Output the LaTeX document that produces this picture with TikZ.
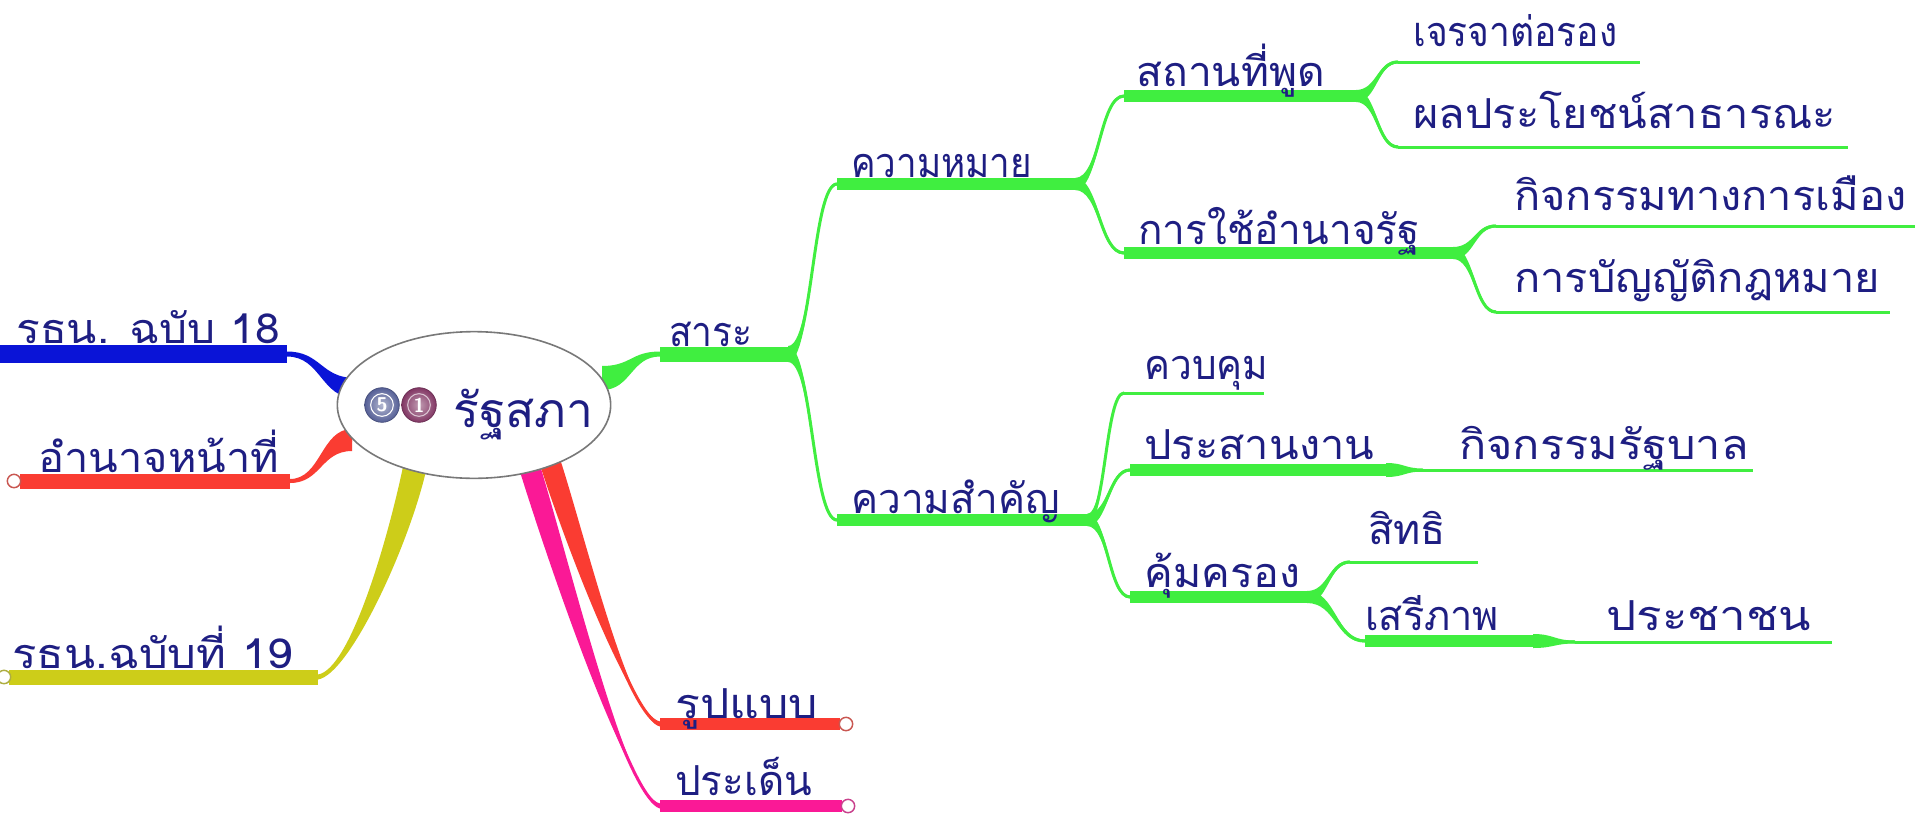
\documentclass[tikz,border=0pt]{standalone}
\usepackage{fontspec}
\newfontfamily\thai[Script=Thai]{Loma}
\usetikzlibrary{calc,shapes.geometric}
\definecolor{cgreen}{RGB}{64,238,64}
\definecolor{cblue}{RGB}{10,20,215}
\definecolor{cred}{RGB}{250,60,50}
\definecolor{cyel}{RGB}{205,205,25}
\definecolor{cpink}{RGB}{250,25,150}
\definecolor{cnavy}{RGB}{30,30,130}
\definecolor{cgray}{RGB}{120,120,120}
\definecolor{cfive}{RGB}{85,95,150}
\definecolor{cone}{RGB}{130,55,100}
\newcommand\sx[2]{\scalebox{#1}[1]{#2}}
% horizontal tapered ribbon: colour, from, half width (px), to, half width (px)
\newcommand\myribbon[5]{%
  \fill[#1] let \p1=(#2), \p2=(#4), \p3=($(#2)!0.5!(#4)$) in
    (\x1,{\y1+#3*0.75pt}) .. controls (\x3,{\y1+#3*0.75pt}) and (\x3,{\y2+#5*0.75pt}) .. (\x2,{\y2+#5*0.75pt})
    -- (\x2,{\y2-#5*0.75pt}) .. controls (\x3,{\y2-#5*0.75pt}) and (\x3,{\y1-#3*0.75pt}) .. (\x1,{\y1-#3*0.75pt}) -- cycle;
  \draw[#1, line width=2.25pt] let \p1=(#2), \p2=(#4), \p3=($(#2)!0.5!(#4)$) in
    (\p1) .. controls (\x3,\y1) and (\x3,\y2) .. (\p2);}
% vertical tapered ribbon: colour, from, half width, control1, control2, to, half width
\newcommand\myvribbon[7]{%
  \fill[#1] ($(#2)+(-#3,0)$) .. controls ($(#4)+(-#3,0)$) and ($(#5)+(0,-#7)$) .. ($(#6)+(0,-#7)$)
    -- ($(#6)+(0,#7)$) .. controls ($(#5)+(0,#7)$) and ($(#4)+(#3,0)$) .. ($(#2)+(#3,0)$) -- cycle;
  \draw[#1, line width=2.25pt] (#2) .. controls (#4) and (#5) .. (#6);}
\begin{document}
\begin{tikzpicture}[x=0.75pt,y=-0.75pt,
  lbl/.style={font=\thai\fontsize{31}{33}\selectfont, text=cnavy, inner sep=0pt, anchor=base west},
  barw/.style={line width=#1*0.75pt},
  leaf/.style={line width=2.25pt},
  endc/.style={fill=white, line width=1.1pt},
  icon/.style={circle, inner sep=0pt, minimum size=26pt, text=white,
      font=\sffamily\bfseries\fontsize{15}{15}\selectfont}]
\fill[white] (0,0) rectangle (1915,814);
\useasboundingbox (0,0) rectangle (1915,814);

% ---------- coordinates ----------
\coordinate (bL) at (0,354);   \coordinate (bR) at (287,354);
\coordinate (rL) at (20,481);  \coordinate (rR) at (290,481);
\coordinate (yL) at (9,677);   \coordinate (yR) at (318,677);
\coordinate (fL) at (660,724); \coordinate (fR) at (840,724);
\coordinate (iL) at (660,806); \coordinate (iR) at (842,806);
\coordinate (sL) at (660,354); \coordinate (sR) at (788,354);
\coordinate (mL) at (837,184); \coordinate (mR) at (1075,184);
\coordinate (kL) at (837,520); \coordinate (kR) at (1087,520);
\coordinate (pL) at (1124,96); \coordinate (pR) at (1356,96);
\coordinate (uL) at (1124,253);\coordinate (uR) at (1453,253);
\coordinate (nL) at (1398,62); \coordinate (nR) at (1640,62);
\coordinate (bnL) at (1398,147);\coordinate (bnR) at (1848,147);
\coordinate (plL) at (1496,226);\coordinate (plR) at (1915,226);
\coordinate (lwL) at (1496,312);\coordinate (lwR) at (1890,312);
\coordinate (cL) at (1124,393);\coordinate (cR) at (1264,393);
\coordinate (oL) at (1130,470);\coordinate (oR) at (1386,470);
\coordinate (gL) at (1423,470);\coordinate (gR) at (1753,470);
\coordinate (qL) at (1130,597);\coordinate (qR) at (1307,597);
\coordinate (riL) at (1350,562);\coordinate (riR) at (1478,562);
\coordinate (frL) at (1365,641);\coordinate (frR) at (1533,641);
\coordinate (peL) at (1575,642);\coordinate (peR) at (1832,642);
\coordinate (eB) at (355,388); \coordinate (eR) at (352,440);
\coordinate (eG) at (602,378);
\coordinate (eY) at (416,462); \coordinate (eP) at (528,462); \coordinate (eF) at (550,462);

% ---------- central connectors ----------
\myribbon{cblue}{bR}{2.5}{eB}{10}
\myribbon{cred}{rR}{2}{eR}{11}
\myribbon{cgreen}{eG}{12}{sL}{2.5}
\myvribbon{cyel}{eY}{12}{400,540}{350,672}{yR}{2.5}
\myvribbon{cred}{eF}{11}{575,540}{630,718}{fL}{2.5}
\myvribbon{cpink}{eP}{11}{558,560}{628,800}{iL}{2.5}

% ---------- central topic ----------
\node[ellipse, draw=cgray, fill=white, line width=1.2pt, minimum width=205pt, minimum height=110pt] (E) at (474,405) {};
\node[icon, inner color=white!55!cfive, outer color=cfive, draw=cfive!80!black, line width=0.5pt] (i5) at (382,405) {5};
\draw[white, line width=0.8pt] (i5.center) circle[radius=8.5pt];
\node[icon, inner color=white!50!cone, outer color=cone, draw=cone!80!black, line width=0.5pt] (i1) at (419,405) {1};
\draw[white!70!cone, line width=0.8pt] (i1.center) circle[radius=8.5pt];
\node[lbl, font=\thai\fontsize{36}{38}\selectfont] (ct) at (453,427) {รัฐสภา};

% ---------- level 1 bars ----------
\draw[cblue, barw=18] (bL) -- (bR);
\draw[cred, barw=15] (rL) -- (rR);
\draw[cyel, barw=15] (yL) -- (yR);
\draw[cred, barw=12] (fL) -- (fR);
\draw[cpink, barw=12] (iL) -- (iR);
\draw[cgreen, barw=15] (sL) -- (sR);
\draw[cred!60!gray, endc] (rL) ++(-6,0) circle[radius=5pt];
\draw[cyel!60!gray, endc] (yL) ++(-5,0) circle[radius=5pt];
\draw[cred!60!gray, endc] (fR) ++(6,0) circle[radius=5pt];
\draw[cpink!60!gray, endc] (iR) ++(6,0) circle[radius=5pt];

% ---------- green tree ----------
\myribbon{cgreen}{sR}{8}{mL}{1.5}
\myribbon{cgreen}{sR}{8}{kL}{1.5}
\draw[cgreen, barw=12] (mL) -- (mR);
\draw[cgreen, barw=12] (kL) -- (kR);
\myribbon{cgreen}{mR}{6}{pL}{1.5}
\myribbon{cgreen}{mR}{6}{uL}{1.5}
\draw[cgreen, barw=12] (pL) -- (pR);
\draw[cgreen, barw=12] (uL) -- (uR);
\myribbon{cgreen}{pR}{6}{nL}{1.5}
\myribbon{cgreen}{pR}{6}{bnL}{1.5}
\draw[cgreen, leaf] (nL) -- (nR);
\draw[cgreen, leaf] (bnL) -- (bnR);
\myribbon{cgreen}{uR}{6}{plL}{1.5}
\myribbon{cgreen}{uR}{6}{lwL}{1.5}
\draw[cgreen, leaf] (plL) -- (plR);
\draw[cgreen, leaf] (lwL) -- (lwR);
\myribbon{cgreen}{kR}{6}{cL}{1.5}
\myribbon{cgreen}{kR}{6}{oL}{1.5}
\myribbon{cgreen}{kR}{6}{qL}{1.5}
\draw[cgreen, leaf] (cL) -- (cR);
\draw[cgreen, barw=12] (oL) -- (oR);
\myribbon{cgreen}{oR}{7}{gL}{1.5}
\draw[cgreen, leaf] (gL) -- (gR);
\draw[cgreen, barw=12] (qL) -- (qR);
\myribbon{cgreen}{qR}{6}{riL}{1.5}
\myribbon{cgreen}{qR}{6}{frL}{1.5}
\draw[cgreen, leaf] (riL) -- (riR);
\draw[cgreen, barw=12] (frL) -- (frR);
\myribbon{cgreen}{frR}{7}{peL}{1.5}
\draw[cgreen, leaf] (peL) -- (peR);

% ---------- labels ----------
\node[lbl] (t18) at (16,343) {\sx{1.07}{รธน. ฉบับ 18}};
\node[lbl] (tpow) at (38,472) {\sx{1.05}{อำนาจหน้าที่}};
\node[lbl] (t19) at (12,668) {\sx{1.1}{รธน.ฉบับที่ 19}};
\node[lbl] (tform) at (675,718) {\sx{1.12}{รูปแบบ}};
\node[lbl] (tissue) at (675,795) {\sx{0.98}{ประเด็น}};
\node[lbl] (tsara) at (669,346) {\sx{0.9}{สาระ}};
\node[lbl] (tmean) at (851,177) {\sx{0.89}{ความหมาย}};
\node[lbl] (timp) at (851,513) {\sx{0.98}{ความสำคัญ}};
\node[lbl] (tplace) at (1136,86) {\sx{1.03}{สถานที่พูด}};
\node[lbl] (tuse) at (1138,244) {\sx{0.98}{การใช้อำนาจรัฐ}};
\node[lbl] (tneg) at (1413,46) {\sx{0.9}{เจรจาต่อรอง}};
\node[lbl] (tpub) at (1413,128) {\sx{1.05}{ผลประโยชน์สาธารณะ}};
\node[lbl] (tpol) at (1514,210) {\sx{1.05}{กิจกรรมทางการเมือง}};
\node[lbl] (tlaw) at (1514,292) {\sx{1.05}{การบัญญัติกฎหมาย}};
\node[lbl] (tctrl) at (1144,379) {\sx{0.94}{ควบคุม}};
\node[lbl] (tcoord) at (1144,459) {\sx{1.05}{ประสานงาน}};
\node[lbl] (tgov) at (1459,459) {\sx{1.09}{กิจกรรมรัฐบาล}};
\node[lbl] (tprot) at (1144,587) {\sx{1.04}{คุ้มครอง}};
\node[lbl] (tright) at (1368,544) {สิทธิ};
\node[lbl] (tfree) at (1365,630) {\sx{0.96}{เสรีภาพ}};
\node[lbl] (tpeople) at (1606,630) {\sx{1.15}{ประชาชน}};
\end{tikzpicture}
\end{document}
